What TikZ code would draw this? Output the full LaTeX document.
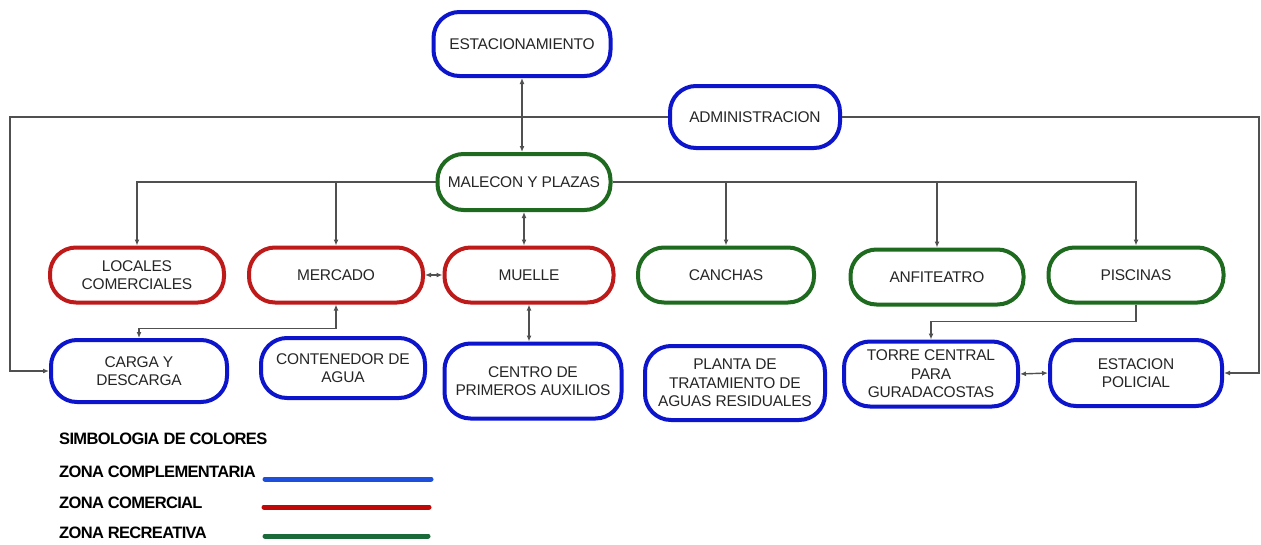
\documentclass[tikz,border=0pt]{standalone}
\usepackage{fontspec}
\setmainfont{Liberation Sans}
\usetikzlibrary{arrows.meta}
\definecolor{cblue}{HTML}{0C14CC}
\definecolor{cred}{HTML}{BE1A1A}
\definecolor{cgreen}{HTML}{1E6A1E}
\definecolor{lblue}{HTML}{1E4EDC}
\definecolor{lred}{HTML}{C00808}
\definecolor{lgreen}{HTML}{1A6A3A}
\definecolor{cline}{HTML}{505050}
\tikzset{
  box/.style={draw, rectangle, rounded corners=26pt, line width=4pt, fill=white,
    align=center, inner sep=2pt, font=\fontsize{15.5}{18.5}\selectfont\addfontfeatures{LetterSpace=-1.5}, text=black!85},
  bbox/.style={box, draw=cblue},
  rbox/.style={box, draw=cred},
  gbox/.style={box, draw=cgreen},
  conn/.style={draw=cline, line width=1.4pt, -{Latex[length=6pt,width=5pt]}},
  dbl/.style={draw=cline, line width=1.4pt, {Latex[length=6pt,width=5pt]}-{Latex[length=6pt,width=5pt]}},
  legtext/.style={anchor=west, inner sep=0pt, font=\bfseries\fontsize{16.5}{18}\selectfont\addfontfeatures{LetterSpace=-4}},
  legline/.style={line width=5pt, line cap=round}
}
\begin{document}
\begin{tikzpicture}[x=1pt,y=-1pt]
\useasboundingbox[fill=white] (0,0) rectangle (1261,544);
% top
\node[bbox, minimum width=177pt, minimum height=64pt] (est) at (522,44) {ESTACIONAMIENTO};
\node[bbox, minimum width=170pt, minimum height=62pt] (adm) at (755,117) {ADMINISTRACION};
\node[gbox, minimum width=173pt, minimum height=56pt] (mal) at (524,182) {MALECON Y PLAZAS};
% row 2
\node[rbox, minimum width=174pt, minimum height=55pt] (loc) at (137,275) {LOCALES\\COMERCIALES};
\node[rbox, minimum width=174pt, minimum height=55pt] (mer) at (336,275) {MERCADO};
\node[rbox, minimum width=169pt, minimum height=55pt] (mue) at (529,275) {MUELLE};
\node[gbox, minimum width=176pt, minimum height=55pt] (can) at (726,275) {CANCHAS};
\node[gbox, minimum width=173pt, minimum height=55pt] (anf) at (937,277) {ANFITEATRO};
\node[gbox, minimum width=175pt, minimum height=55pt] (pis) at (1136,275) {PISCINAS};
% row 3
\node[bbox, minimum width=176pt, minimum height=62pt] (car) at (139,371) {CARGA Y\\DESCARGA};
\node[bbox, minimum width=164pt, minimum height=60pt] (con) at (343,368) {CONTENEDOR DE\\AGUA};
\node[bbox, minimum width=177pt, minimum height=75pt] (cen) at (533,381) {CENTRO DE\\PRIMEROS AUXILIOS};
\node[bbox, minimum width=180pt, minimum height=74pt] (pla) at (735,383) {PLANTA DE\\TRATAMIENTO DE\\AGUAS RESIDUALES};
\node[bbox, minimum width=174pt, minimum height=65pt] (tor) at (931,374) {TORRE CENTRAL\\PARA\\GURADACOSTAS};
\node[bbox, minimum width=172pt, minimum height=66pt] (pol) at (1136,373) {ESTACION\\POLICIAL};
% connectors
\coordinate (lc) at (10,117);
\coordinate (rc) at (1259,117);
\draw[dbl] (est.south) -- (est.south |- mal.north);
\draw[conn] (adm.west) -- (lc) |- (car.west);
\draw[conn] (adm.east) -- (rc) |- (pol.east);
\draw[conn] (mal.west) -| (loc.north);
\draw[conn] (mal.west) -| (mer.north);
\draw[conn] (mal.east) -| (can.north);
\draw[conn] (mal.east) -| (anf.north);
\draw[conn] (mal.east) -| (pis.north);
\draw[dbl] (mal.south) -- (mal.south |- mue.north);
\draw[dbl] (mer.east) -- (mue.west);
\draw[dbl] (mer.south) -- ++(0,24) -| (car.north);
\draw[dbl] (mue.south) -- (mue.south |- cen.north);
\draw[conn] (pis.south) -- ++(0,17) -| (tor.north);
\draw[dbl] (tor.east) -- (pol.west);
% legend
\node[legtext] (lt0) at (59,439) {SIMBOLOGIA DE COLORES};
\node[legtext] (lt1) at (59,472) {ZONA COMPLEMENTARIA};
\node[legtext] (lt2) at (59,503) {ZONA COMERCIAL};
\node[legtext] (lt3) at (59,533) {ZONA RECREATIVA};
\draw[legline, lblue] (265,479) -- (431,479);
\draw[legline, lred] (264,507) -- (429,507);
\draw[legline, lgreen] (265,536) -- (428,536);
\end{tikzpicture}
\end{document}
